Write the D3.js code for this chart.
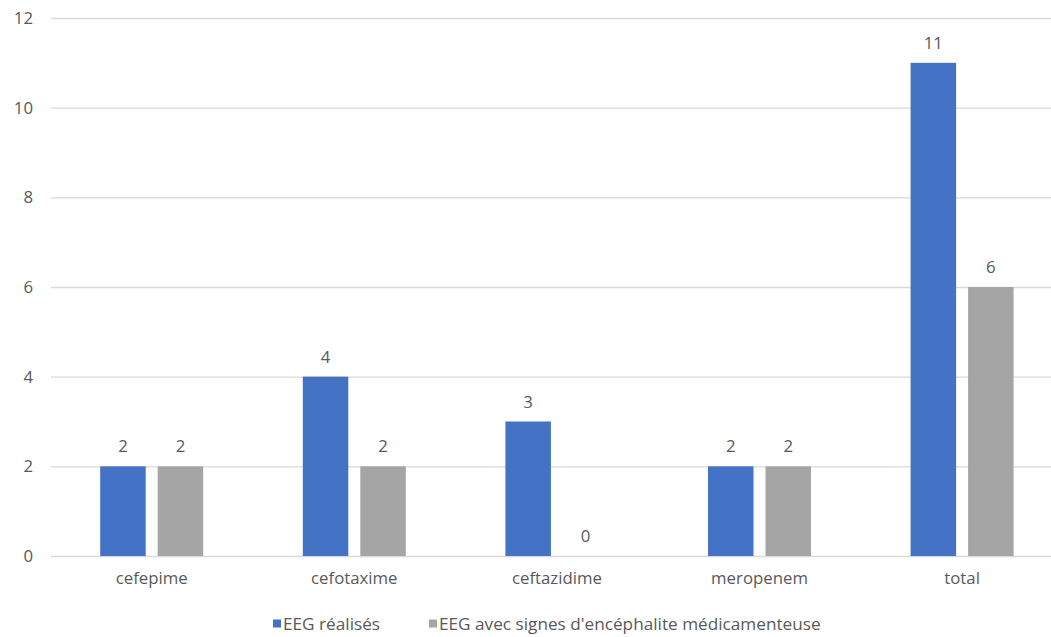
<!DOCTYPE html>
<html>
<head>
<meta charset="utf-8">
<script src="https://cdn.jsdelivr.net/npm/d3@7"></script>
<style>
html,body{margin:0;padding:0;background:#fff;}
svg{display:block;}
text{font-family:"Open Sans",sans-serif;fill:#595959;}
</style>
</head>
<body>
<svg id="chart" width="1051" height="637"></svg>
<script>
const categories = ["cefepime", "cefotaxime", "ceftazidime", "meropenem", "total"];
const seriesNames = ["EEG réalisés", "EEG avec signes d'encéphalite médicamenteuse"];
const eegRealises = [2, 4, 3, 2, 11];
const eegEncephalite = [2, 2, 0, 2, 6];
const yTicks = [0, 2, 4, 6, 8, 10, 12];
const colors = ["#4472C4", "#A5A5A5"];

const seriesValues = [eegRealises, eegEncephalite];
const svg = d3.select("#chart");
const fontSize = 16.8;
const legendFont = 17.2;

const y = d3.scaleLinear().domain([0, 12]).range([556, 18]);
const x0 = d3.scaleBand().domain(categories).range([50.4, 1063.4]).padding(0);
const groupW = 103;
const x1 = d3.scaleBand().domain(d3.range(seriesNames.length))
  .range([x0.bandwidth()/2 - groupW/2, x0.bandwidth()/2 + groupW/2])
  .paddingInner(0.2087).paddingOuter(0);

// gridlines
const yAxis = d3.axisLeft(y).tickValues(yTicks).tickSize(-1060).tickPadding(18).tickFormat(d3.format("d"));
const gy = svg.append("g").attr("transform", "translate(51,0)").call(yAxis);
gy.select(".domain").remove();
gy.selectAll(".tick line").attr("stroke", "#D9D9D9").attr("stroke-width", 1.4);
gy.selectAll(".tick text").attr("font-size", fontSize).attr("fill", "#595959")
  .style("font-family", "'Open Sans',sans-serif");

// bars
const groups = svg.append("g").selectAll("g").data(categories).join("g")
  .attr("transform", d => `translate(${x0(d)},0)`);
seriesValues.forEach((vals, si) => {
  groups.append("rect")
    .attr("x", x1(si))
    .attr("width", x1.bandwidth())
    .attr("y", (d, i) => y(vals[i]))
    .attr("height", (d, i) => y(0) - y(vals[i]))
    .attr("fill", colors[si]);
  groups.append("text")
    .attr("x", x1(si) + x1.bandwidth()/2)
    .attr("y", (d, i) => y(vals[i]) - 14)
    .attr("text-anchor", "middle")
    .attr("font-size", fontSize)
    .text((d, i) => vals[i]);
});

// category axis labels
const xAxis = d3.axisBottom(x0).tickSize(0).tickPadding(16);
const gx = svg.append("g").attr("transform", `translate(0,${y(0)})`).call(xAxis);
gx.select(".domain").remove();
gx.selectAll(".tick text").attr("font-size", fontSize).attr("fill", "#595959")
  .style("font-family", "'Open Sans',sans-serif");

// legend
const legend = svg.append("g");
const legendX = [273, 429];
seriesNames.forEach((name, i) => {
  const g = legend.append("g").attr("transform", `translate(${legendX[i]},619.5)`);
  g.append("rect").attr("width", 8).attr("height", 8).attr("fill", colors[i]);
  g.append("text").attr("x", 10).attr("y", 4).attr("dy", "0.35em")
    .attr("font-size", legendFont).text(name);
});
</script>
</body>
</html>
